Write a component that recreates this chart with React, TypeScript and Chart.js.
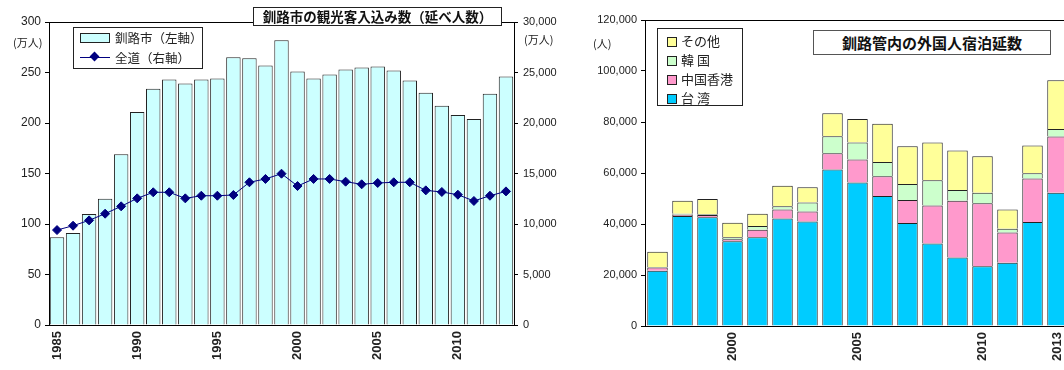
import React, { useEffect, useRef } from 'react';
import { Chart, registerables } from 'chart.js';

Chart.register(...registerables);

// ---- Left chart data: 釧路市の観光客入込み数 ----
const years = ['1985','1986','1987','1988','1989','1990','1991','1992','1993','1994','1995','1996','1997','1998','1999','2000','2001','2002','2003','2004','2005','2006','2007','2008','2009','2010','2011','2012','2013'];
const kushiroCity = [87, 91, 110, 125, 169, 211, 234, 243, 239, 243, 244, 265, 264, 257, 282, 251, 244, 248, 253, 255, 256, 252, 242, 230, 217, 208, 204, 229, 246];
const hokkaidoTotal = [9400, 9830, 10360, 11020, 11750, 12540, 13140, 13140, 12540, 12800, 12800, 12870, 14130, 14460, 14980, 13760, 14460, 14460, 14190, 13930, 14060, 14130, 14130, 13330, 13170, 12900, 12280, 12800, 13230];
const leftShownTicks = ['1985', '1990', '1995', '2000', '2005', '2010'];

// ---- Right chart data: 釧路管内の外国人宿泊延数 ----
const years2 = ['1997','1998','1999','2000','2001','2002','2003','2004','2005','2006','2007','2008','2009','2010','2011','2012','2013'];
const taiwan = [21700, 43100, 42600, 33200, 34800, 42200, 41000, 61400, 56300, 51000, 40400, 32400, 26900, 23400, 24800, 40800, 52300];
const hongkong = [1200, 500, 900, 800, 2900, 3500, 3900, 6300, 9000, 7700, 9000, 14900, 22200, 24700, 11900, 17000, 22000];
const korea = [200, 400, 300, 800, 1550, 1300, 3500, 6700, 6700, 5600, 6300, 9900, 4200, 4200, 1400, 2100, 3000];
const others = [6000, 5100, 6000, 5700, 4800, 8000, 6000, 9000, 9150, 15000, 14800, 14800, 15550, 14250, 7600, 10850, 19100];
const rightShownTicks = ['2000', '2005', '2010', '2013'];

const NUM_FONT = '"Liberation Sans", Arial, sans-serif';
const JP_FONT = '"Noto Sans CJK JP", "Noto Sans", sans-serif';
const TEXT = '#222';

const topBorder = {
  id: 'topBorder',
  afterDraw(chart: any) {
    const { ctx, chartArea: a } = chart;
    ctx.save();
    ctx.strokeStyle = '#000';
    ctx.lineWidth = 1;
    ctx.beginPath();
    ctx.moveTo(a.left, Math.round(a.top) + 0.5);
    ctx.lineTo(a.right, Math.round(a.top) + 0.5);
    ctx.stroke();
    ctx.restore();
  },
};

const fmt = (v: any) => Number(v).toLocaleString('en-US');

const xFit = (h: number) => (s: any) => {
  s.height = h;
  s.paddingLeft = 0;
  s.paddingRight = 0;
};

function LeftChart() {
  const ref = useRef<HTMLCanvasElement>(null);
  useEffect(() => {
    const chart = new Chart(ref.current!, {
      type: 'bar',
      data: {
        labels: years,
        datasets: [
          {
            type: 'line',
            label: '全道（右軸）',
            data: hokkaidoTotal,
            yAxisID: 'y1',
            borderColor: '#000080',
            backgroundColor: '#000080',
            borderWidth: 1,
            pointStyle: 'rectRot',
            pointRadius: 4.5,
            pointBackgroundColor: '#000080',
            pointBorderColor: '#000080',
            tension: 0,
            order: 0,
          } as any,
          {
            type: 'bar',
            label: '釧路市（左軸）',
            data: kushiroCity,
            yAxisID: 'y',
            backgroundColor: '#CCFFFF',
            borderColor: '#222',
            borderWidth: 1,
            barPercentage: 0.9,
            categoryPercentage: 1,
            order: 1,
          } as any,
        ],
      },
      options: {
        responsive: false,
        animation: false,
        layout: { padding: { top: 22, left: 0, right: 0, bottom: 0 } },
        plugins: { legend: { display: false }, tooltip: { enabled: false }, title: { display: false } },
        scales: {
          x: {
            grid: { display: false },
            border: { color: '#000', width: 1 },
            ticks: {
              autoSkip: false,
              maxRotation: 90,
              minRotation: 90,
              padding: -2,
              color: TEXT,
              font: { family: NUM_FONT, size: 13, weight: 'bold' },
              callback(this: any, v: any) {
                const l = this.getLabelForValue(v);
                return leftShownTicks.includes(l) ? l : '';
              },
            },
            afterFit: xFit(45),
          },
          y: {
            position: 'left',
            min: 0,
            max: 300,
            grid: { display: true, drawOnChartArea: false, drawTicks: true, tickLength: 4, color: '#000' },
            border: { color: '#000', width: 1 },
            ticks: { stepSize: 50, padding: 4, color: TEXT, font: { family: NUM_FONT, size: 12 } },
            afterFit(s: any) { s.width = 49; },
          },
          y1: {
            position: 'right',
            min: 0,
            max: 30000,
            grid: { display: true, drawOnChartArea: false, drawTicks: true, tickLength: 4, color: '#000' },
            border: { color: '#000', width: 1 },
            ticks: { stepSize: 5000, padding: 5, color: TEXT, font: { family: NUM_FONT, size: 11 }, callback: fmt },
            afterFit(s: any) { s.width = 66; },
          },
        },
      } as any,
      plugins: [topBorder],
    });
    return () => chart.destroy();
  }, []);
  return <canvas ref={ref} width={580} height={370} style={{ position: 'absolute', left: 0, top: 0, width: 580, height: 370 }} />;
}

function RightChart() {
  const ref = useRef<HTMLCanvasElement>(null);
  useEffect(() => {
    const common = { borderColor: '#222', borderWidth: 1, barPercentage: 0.82, categoryPercentage: 1 };
    const chart = new Chart(ref.current!, {
      type: 'bar',
      data: {
        labels: years2,
        datasets: [
          { label: '台 湾', data: taiwan, backgroundColor: '#00CCFF', ...common },
          { label: '中国香港', data: hongkong, backgroundColor: '#FF99CC', ...common },
          { label: '韓 国', data: korea, backgroundColor: '#CCFFCC', ...common },
          { label: 'その他', data: others, backgroundColor: '#FFFF99', ...common },
        ] as any,
      },
      options: {
        responsive: false,
        animation: false,
        layout: { padding: { top: 20, left: 0, right: 0, bottom: 0 } },
        plugins: { legend: { display: false }, tooltip: { enabled: false }, title: { display: false } },
        scales: {
          x: {
            stacked: true,
            grid: { display: false },
            border: { color: '#000', width: 1 },
            ticks: {
              autoSkip: false,
              maxRotation: 90,
              minRotation: 90,
              padding: -2,
              color: TEXT,
              font: { family: NUM_FONT, size: 13, weight: 'bold' },
              callback(this: any, v: any) {
                const l = this.getLabelForValue(v);
                return rightShownTicks.includes(l) ? l : '';
              },
            },
            afterFit: xFit(44),
          },
          y: {
            stacked: true,
            min: 0,
            max: 120000,
            grid: { display: true, drawOnChartArea: false, drawTicks: true, tickLength: 4, color: '#000' },
            border: { color: '#000', width: 1 },
            ticks: { stepSize: 20000, padding: 4, color: TEXT, font: { family: NUM_FONT, size: 11 }, callback: fmt },
            afterFit(s: any) { s.width = 65; },
          },
        },
      } as any,
      plugins: [topBorder],
    });
    return () => chart.destroy();
  }, []);
  return <canvas ref={ref} width={490} height={370} style={{ position: 'absolute', left: 580, top: 0, width: 490, height: 370 }} />;
}

const abs = (l: number, t: number, extra: React.CSSProperties = {}): React.CSSProperties => ({
  position: 'absolute', left: l, top: t, ...extra,
});

const swatch = (bg: string): React.CSSProperties => ({
  display: 'inline-block', width: 8, height: 8, background: bg, border: '1px solid #222', marginRight: 4, verticalAlign: 'middle',
});

export default function App() {
  return (
    <div style={{ position: 'fixed', left: 0, top: 0, width: 1064, height: 370, overflow: 'hidden', background: '#fff', fontFamily: JP_FONT, color: TEXT }}>
      <LeftChart />
      <RightChart />

      {/* Left chart overlays */}
      <div style={abs(13, 36, { fontSize: 11, lineHeight: '13px' })}>(万人)</div>
      <div style={abs(524, 33, { fontSize: 11, lineHeight: '13px' })}>(万人)</div>
      <div style={abs(253, 7, { width: 247, height: 17, border: '1px solid #222', background: '#fff', fontSize: 13.5, fontWeight: 'bold', lineHeight: '17px', textAlign: 'center', color: '#111' })}>
        釧路市の観光客入込み数（延べ人数）
      </div>
      <div style={abs(73, 27, { width: 128, height: 40, border: '1px solid #222', background: '#fff', fontSize: 12.5 })}>
        <div style={abs(6, 5, { width: 28, height: 8, background: '#CCFFFF', border: '1px solid #222' })} />
        <div style={abs(41, 1, { lineHeight: '17px', whiteSpace: 'nowrap' })}>釧路市（左軸）</div>
        <div style={abs(6, 29, { width: 30, height: 1, background: '#000080' })} />
        <div style={abs(17, 25, { width: 7, height: 7, background: '#000080', transform: 'rotate(45deg)' })} />
        <div style={abs(41, 21, { lineHeight: '17px', whiteSpace: 'nowrap' })}>全道（右軸）</div>
      </div>

      {/* Right chart overlays */}
      <div style={abs(593, 37, { fontSize: 11, lineHeight: '13px' })}>(人)</div>
      <div style={abs(813, 30, { width: 236, height: 23, border: '1px solid #555', background: '#fff', fontSize: 15, fontWeight: 'bold', lineHeight: '23px', textAlign: 'center', color: '#111' })}>
        釧路管内の外国人宿泊延数
      </div>
      <div style={abs(657, 28, { width: 84, height: 76, border: '1px solid #222', background: '#fff', fontSize: 13 })}>
        <div style={abs(9, 2, { lineHeight: '19px', whiteSpace: 'nowrap' })}><span style={swatch('#FFFF99')} />その他</div>
        <div style={abs(9, 21, { lineHeight: '19px', whiteSpace: 'nowrap' })}><span style={swatch('#CCFFCC')} />韓 国</div>
        <div style={abs(9, 40, { lineHeight: '19px', whiteSpace: 'nowrap' })}><span style={swatch('#FF99CC')} />中国香港</div>
        <div style={abs(9, 59, { lineHeight: '19px', whiteSpace: 'nowrap' })}><span style={swatch('#00CCFF')} />台 湾</div>
      </div>
    </div>
  );
}
